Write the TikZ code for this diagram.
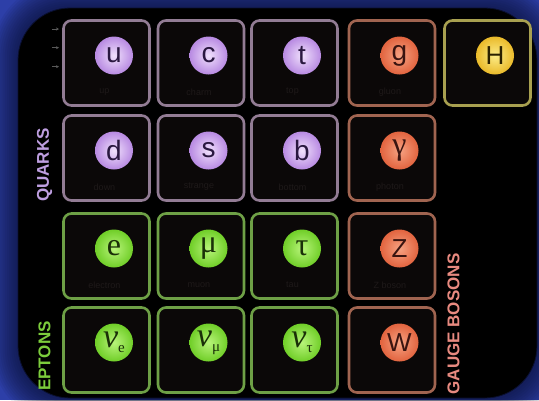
\documentclass[tikz,border=0pt]{standalone}
\usepackage{fontspec}
\setmainfont{Liberation Sans}
\newfontfamily\serifp{Liberation Serif}
\usetikzlibrary{arrows.meta}
\definecolor{bgnavy}{HTML}{2D3FA8}
\definecolor{shadowc}{HTML}{0A1030}
\definecolor{boxfill}{HTML}{0B0808}
\definecolor{qline}{HTML}{927C94}
\definecolor{gline}{HTML}{A06450}
\definecolor{hline}{HTML}{A8A050}
\definecolor{lline}{HTML}{6EA046}
\definecolor{qin}{HTML}{F0E0FC}
\definecolor{qout}{HTML}{B88AE2}
\definecolor{gin}{HTML}{F6A282}
\definecolor{gout}{HTML}{E2643F}
\definecolor{hin}{HTML}{FCEC88}
\definecolor{hout}{HTML}{EABA2A}
\definecolor{lin}{HTML}{B8F47A}
\definecolor{lout}{HTML}{70CE28}
\definecolor{qtxt}{HTML}{2A1840}
\definecolor{gtxt}{HTML}{3A1410}
\definecolor{htxt}{HTML}{2A2000}
\definecolor{ltxt}{HTML}{1A3008}
\definecolor{qlab}{HTML}{BE9EE0}
\definecolor{llab}{HTML}{7CCC3C}
\definecolor{glab}{HTML}{E88A80}
\definecolor{faint}{HTML}{1E1919}
\definecolor{arrowc}{HTML}{5A5A5A}
\tikzset{
  pbox/.style={draw=#1, line width=2.6pt, rounded corners=8pt, fill=boxfill,
    minimum width=86pt, minimum height=85pt, inner sep=0pt},
  ball/.style 2 args={circle, minimum size=38pt, inner sep=0pt, inner color=#1, outer color=#2},
  sansl/.style={font=\fontsize{28}{28}\selectfont},
  sansu/.style={font=\fontsize{26}{26}\selectfont},
  serl/.style={font=\serifp\fontsize{32}{32}\selectfont},
  nul/.style={font=\serifp\itshape\fontsize{34}{34}\selectfont},
  sidelab/.style={font=\bfseries\fontsize{17}{17}\selectfont, rotate=90},
  pname/.style={font=\fontsize{9}{9}\selectfont, text=faint},
  tinyarrow/.style={draw=arrowc, line width=0.7pt, -{Stealth[length=3pt,width=3pt]}}
}
\newcommand{\nusub}[1]{\raisebox{-5pt}{\serifp\upshape\fontsize{15}{15}\selectfont #1}}
\begin{document}
\begin{tikzpicture}[x=1pt,y=-1pt]
\useasboundingbox (0,0) rectangle (539,400);
% background
\fill[bgnavy] (0,0) rectangle (539,400);
\foreach \i in {12,11,...,1}{
  \fill[shadowc, opacity=0.075, rounded corners={50+\i*2}] (18-\i*2.2,8-\i*2.2) rectangle (537+\i*2.2,398+\i*2.2);
}
\fill[black, rounded corners=52pt] (18,8) rectangle (537,398);
\draw[shadowc, line width=0.8pt, rounded corners=52pt] (18,8) rectangle (537,398);

% boxes
\node[pbox=qline] (bu) at (106.5,63) {};
\node[pbox=qline] (bc) at (201,63) {};
\node[pbox=qline] (bt) at (294.5,63) {};
\node[pbox=gline] (bg) at (392,63) {};
\node[pbox=hline] (bh) at (487.5,63) {};
\node[pbox=qline] (bd) at (106.5,158) {};
\node[pbox=qline] (bs) at (201,158) {};
\node[pbox=qline] (bb) at (294.5,158) {};
\node[pbox=gline] (bgam) at (392,158) {};
\node[pbox=lline] (be) at (106.5,256) {};
\node[pbox=lline] (bmu) at (201,256) {};
\node[pbox=lline] (btau) at (294.5,256) {};
\node[pbox=gline] (bz) at (392,256) {};
\node[pbox=lline] (bne) at (106.5,350) {};
\node[pbox=lline] (bnm) at (201,350) {};
\node[pbox=lline] (bnt) at (294.5,350) {};
\node[pbox=gline] (bw) at (392,350) {};

% faint names
\node[pname] (nu1) at (104.5,92) {up};
\node[pname] (nc1) at (199,92) {charm};
\node[pname] (nt1) at (292.5,92) {top};
\node[pname] (ng1) at (390,92) {gluon};
\node[pname] (nd1) at (104.5,187) {down};
\node[pname] (ns1) at (199,187) {strange};
\node[pname] (nb1) at (292.5,187) {bottom};
\node[pname] (nph) at (390,187) {photon};
\node[pname] (nel) at (104.5,285) {electron};
\node[pname] (nmu) at (199,285) {muon};
\node[pname] (nta) at (292.5,285) {tau};
\node[pname] (nzb) at (390,285) {Z boson};

% particle balls
\node[ball={qin}{qout}, sansl, text=qtxt] (pu) at (114,55.5) {u};
\node[ball={qin}{qout}, sansl, text=qtxt] (pc) at (208.5,55.5) {c};
\node[ball={qin}{qout}, sansl, text=qtxt] (pt) at (302,55.5) {t};
\node[ball={gin}{gout}, sansl, text=gtxt] (pg) at (399.5,55.5) {g};
\node[ball={hin}{hout}, sansu, text=htxt] (ph) at (495,55.5) {H};
\node[ball={qin}{qout}, sansl, text=qtxt] (pd) at (114,150.5) {d};
\node[ball={qin}{qout}, sansl, text=qtxt] (ps) at (208.5,150.5) {s};
\node[ball={qin}{qout}, sansl, text=qtxt] (pb) at (302,150.5) {b};
\node[ball={gin}{gout}, serl, text=gtxt] (pgam) at (399.5,150.5) {γ};
\node[ball={lin}{lout}, serl, text=ltxt] (pe) at (114,248.5) {e};
\node[ball={lin}{lout}, serl, text=ltxt] (pmu) at (208.5,248.5) {μ};
\node[ball={lin}{lout}, serl, text=ltxt] (ptau) at (302,248.5) {τ};
\node[ball={gin}{gout}, sansu, text=gtxt] (pz) at (399.5,248.5) {Z};
\node[ball={lin}{lout}, nul, text=ltxt] (pne) at (114,342.5) {ν\nusub{e}};
\node[ball={lin}{lout}, nul, text=ltxt] (pnm) at (208.5,342.5) {ν\nusub{μ}};
\node[ball={lin}{lout}, nul, text=ltxt] (pnt) at (302,342.5) {ν\nusub{τ}};
\node[ball={gin}{gout}, sansu, text=gtxt] (pw) at (399.5,342.5) {W};

% side labels
\node[sidelab, text=qlab] (lq) at (44.5,165) {QUARKS};
\node[sidelab, text=llab] (ll) at (44.5,356) {EPTONS};
\node[sidelab, text=glab] (lg) at (453.5,324) {GAUGE BOSONS};

% tiny arrows
\coordinate (a1s) at (52,29); \coordinate (a1e) at (59,29);
\coordinate (a2s) at (52,47.7); \coordinate (a2e) at (59,47.7);
\coordinate (a3s) at (52,66.7); \coordinate (a3e) at (59,66.7);
\draw[tinyarrow] (a1s) -- (a1e);
\draw[tinyarrow] (a2s) -- (a2e);
\draw[tinyarrow] (a3s) -- (a3e);
\end{tikzpicture}
\end{document}
